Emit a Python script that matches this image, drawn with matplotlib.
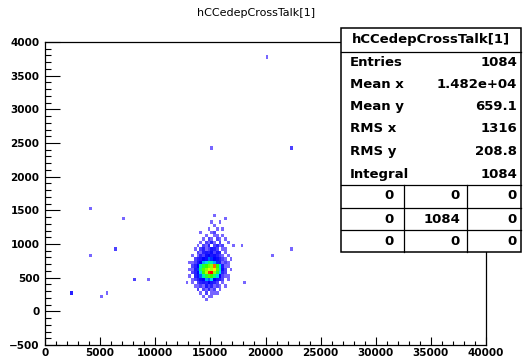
import numpy as np
import matplotlib.pyplot as plt
from matplotlib.colors import LinearSegmentedColormap
from matplotlib.patches import Rectangle
from matplotlib.ticker import MultipleLocator

# cluster bins: x centres (250 wide) and y centres (50 wide)
clu_x = [12875, 13125, 13375, 13625, 13875, 14125, 14375, 14625, 14875, 15125,
         15375, 15625, 15875, 16125, 16375, 16625, 16875, 17125, 17375, 17625]
clu_y = [1425, 1375, 1325, 1275, 1225, 1175, 1125, 1075, 1025, 975, 925, 875, 825,
         775, 725, 675, 625, 575, 525, 475, 425, 375, 325, 275, 225, 175]
clu_n = [
    [0, 0, 0, 0, 0, 0, 0, 0, 0, 0, 1, 0, 0, 0, 0, 0, 0, 0, 0, 0],
    [0, 0, 0, 0, 0, 0, 0, 0, 0, 0, 0, 0, 0, 0, 1, 0, 0, 0, 0, 0],
    [0, 0, 0, 0, 0, 0, 0, 0, 0, 1, 0, 0, 1, 0, 0, 0, 0, 0, 0, 0],
    [0, 0, 0, 0, 0, 0, 0, 0, 0, 0, 1, 0, 0, 0, 0, 0, 0, 0, 0, 0],
    [0, 0, 0, 0, 0, 0, 0, 0, 1, 0, 0, 1, 0, 1, 0, 0, 0, 0, 0, 0],
    [0, 0, 0, 0, 0, 1, 0, 0, 0, 1, 2, 0, 0, 0, 0, 0, 0, 0, 0, 0],
    [0, 0, 0, 0, 0, 0, 0, 1, 0, 0, 1, 1, 0, 1, 0, 0, 0, 0, 0, 0],
    [0, 0, 0, 0, 0, 0, 1, 0, 2, 1, 0, 2, 1, 0, 1, 0, 0, 0, 0, 0],
    [0, 0, 0, 0, 0, 1, 0, 2, 1, 3, 1, 0, 2, 0, 0, 1, 0, 0, 0, 0],
    [0, 0, 0, 0, 1, 0, 2, 1, 3, 0, 2, 3, 1, 2, 0, 0, 0, 1, 0, 0],
    [0, 0, 0, 1, 0, 2, 3, 1, 2, 4, 3, 2, 0, 1, 1, 0, 0, 0, 0, 0],
    [0, 0, 0, 0, 2, 1, 3, 4, 3, 5, 2, 4, 3, 0, 1, 0, 0, 0, 0, 0],
    [0, 0, 1, 0, 1, 3, 2, 5, 6, 4, 5, 3, 2, 1, 0, 1, 0, 0, 0, 0],
    [0, 0, 0, 2, 3, 4, 6, 5, 8, 7, 6, 5, 3, 2, 1, 0, 1, 0, 0, 0],
    [0, 1, 1, 2, 4, 6, 9, 10, 12, 11, 9, 7, 4, 1, 2, 1, 0, 0, 0, 0],
    [0, 0, 2, 3, 6, 11, 13, 14, 16, 17, 22, 14, 10, 4, 1, 1, 0, 0, 0, 0],
    [0, 1, 1, 4, 7, 12, 15, 17, 19, 18, 20, 15, 11, 5, 2, 0, 1, 0, 0, 0],
    [0, 0, 2, 3, 6, 10, 14, 18, 23, 24, 17, 13, 10, 3, 2, 0, 0, 0, 0, 0],
    [0, 1, 0, 3, 5, 8, 11, 13, 15, 14, 12, 10, 6, 2, 1, 1, 0, 0, 0, 0],
    [0, 0, 1, 2, 3, 5, 6, 9, 8, 10, 6, 4, 3, 2, 0, 1, 0, 0, 0, 0],
    [1, 0, 1, 0, 2, 3, 4, 3, 6, 4, 3, 2, 0, 1, 0, 0, 0, 0, 0, 0],
    [0, 0, 0, 1, 1, 2, 1, 4, 2, 3, 1, 2, 1, 0, 1, 0, 0, 0, 0, 0],
    [0, 0, 0, 0, 2, 0, 2, 1, 3, 1, 2, 0, 1, 0, 0, 0, 0, 0, 0, 0],
    [0, 0, 0, 0, 0, 1, 0, 2, 0, 1, 1, 1, 0, 0, 0, 0, 0, 0, 0, 0],
    [0, 0, 0, 0, 0, 0, 1, 0, 1, 1, 0, 0, 0, 0, 0, 0, 0, 0, 0, 0],
    [0, 0, 0, 0, 0, 0, 0, 1, 0, 0, 0, 0, 0, 0, 0, 0, 0, 0, 0, 0],
]

# isolated entries away from the cluster
out_x = [4236, 7075, 6440, 4054, 8072, 9496, 2422, 5650, 5052,
         20108, 15147, 22312, 22312, 20680, 18140, 17931]
out_y = [1525, 1361, 937, 807, 495, 495, 262, 292, 233,
         3782, 2445, 2407, 901, 827, 440, 960]
out_w = [1, 1, 2, 1, 2, 1, 3, 1, 1, 1, 1, 2, 1, 1, 1, 1]

title = "hCCedepCrossTalk[1]"
stat_names = ["Entries", "Mean x", "Mean y", "RMS x", "RMS y", "Integral"]
stat_vals = ["1084", "1.482e+04", "659.1", "1316", "208.8", "1084"]
grid_vals = [["0", "0", "0"], ["0", "1084", "0"], ["0", "0", "0"]]

W, H = 530, 360
fig = plt.figure(figsize=(W / 100, H / 100), dpi=100)

def fx(px):
    return px / W

def fy(py):
    return 1 - py / H

ax_l, ax_r, ax_t, ax_b = 45, 486, 42, 345
ax = fig.add_axes([fx(ax_l), fy(ax_b), (ax_r - ax_l) / W, (ax_b - ax_t) / H])

gx, gy = np.meshgrid(clu_x, clu_y)
xs = np.concatenate([gx.ravel(), out_x])
ys = np.concatenate([gy.ravel(), out_y])
ws = np.concatenate([np.array(clu_n).ravel(), out_w])

# rough copy of the ROOT "pretty" palette
root_pal = LinearSegmentedColormap.from_list("rootpal", [
    (0.0, "#7766ff"), (0.08, "#2a22ff"), (0.22, "#0000ff"), (0.3, "#0060ff"),
    (0.38, "#00d0ff"), (0.46, "#00ff90"), (0.56, "#30ff00"), (0.72, "#a0ff00"),
    (0.82, "#ffff00"), (0.92, "#ff6000"), (1.0, "#ff0000")])

ax.hist2d(xs, ys, bins=[np.arange(0, 40001, 250), np.arange(-500, 4001, 50)],
          weights=ws, cmin=0.5, cmap=root_pal, vmin=1, vmax=24)

ax.set_xlim(0, 40000)
ax.set_ylim(-500, 4000)
ax.xaxis.set_major_locator(MultipleLocator(5000))
ax.xaxis.set_minor_locator(MultipleLocator(1000))
ax.yaxis.set_major_locator(MultipleLocator(500))
ax.yaxis.set_minor_locator(MultipleLocator(100))
ax.tick_params(which='both', direction='in', top=False, right=False, width=0.8,
               labelsize=7.5, colors='black')
ax.tick_params(axis='x', which='major', length=5.8, pad=2)
ax.tick_params(axis='x', which='minor', length=3)
ax.tick_params(axis='y', which='major', length=10.5, pad=4)
ax.tick_params(axis='y', which='minor', length=4.3)
for lab in ax.get_xticklabels() + ax.get_yticklabels():
    lab.set_fontweight('bold')
for sp in ax.spines.values():
    sp.set_linewidth(0.9)

fig.text(fx(256), fy(13), title, ha='center', va='center', fontsize=8)

# stats box
bl, br, bt, bb = 341, 521, 28, 252
fig.patches.append(Rectangle((fx(bl), fy(bb)), (br - bl) / W, (bb - bt) / H,
                             transform=fig.transFigure, facecolor='white',
                             edgecolor='black', linewidth=1.1, zorder=5))

def hline(py, x0=bl, x1=br):
    fig.add_artist(plt.Line2D([fx(x0), fx(x1)], [fy(py), fy(py)],
                              transform=fig.transFigure, color='black', lw=0.9, zorder=6))

def vline(px, y0, y1):
    fig.add_artist(plt.Line2D([fx(px), fx(px)], [fy(y0), fy(y1)],
                              transform=fig.transFigure, color='black', lw=0.9, zorder=6))

hline(52)
for py in [185, 208, 230]:
    hline(py)
for px in [404, 467]:
    vline(px, 185, bb)

fig.text(fx(431), fy(40), title, ha='center', va='center', fontsize=9.5,
         fontweight='bold', zorder=7)
row_y = [62.7, 84.3, 106, 128.3, 151, 174]
for name, val, py in zip(stat_names, stat_vals, row_y):
    fig.text(fx(350), fy(py), name, ha='left', va='center', fontsize=9.5,
             fontweight='bold', zorder=7)
    fig.text(fx(517), fy(py), val, ha='right', va='center', fontsize=9.5,
             fontweight='bold', zorder=7)
cell_right = [394, 460, 517]
cell_y = [196, 219.3, 241.7]
for row, py in zip(grid_vals, cell_y):
    for val, px in zip(row, cell_right):
        fig.text(fx(px), fy(py), val, ha='right', va='center', fontsize=9.5,
                 fontweight='bold', zorder=7)

fig.savefig('out.png', dpi=100)
